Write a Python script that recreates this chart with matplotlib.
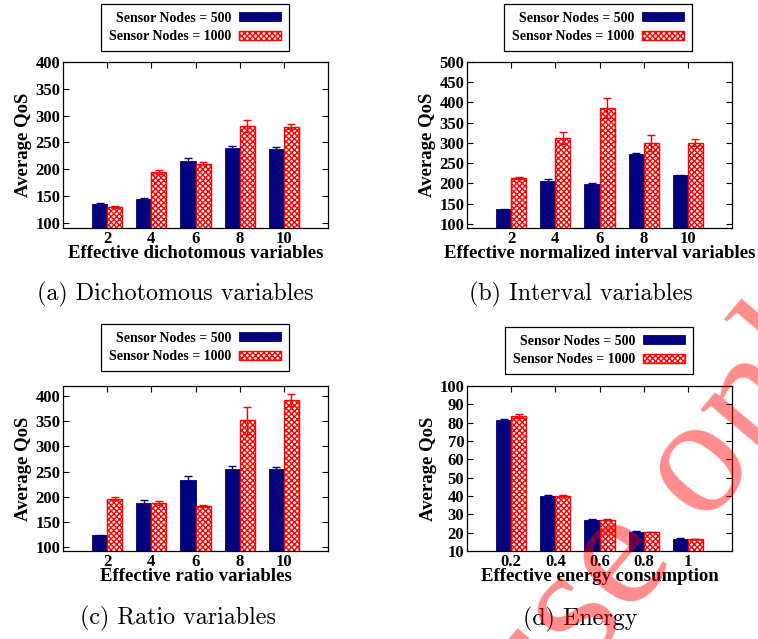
# Average QoS bar charts: 4 panels, 500 vs 1000 sensor nodes
import matplotlib.pyplot as plt

# ---- data ----
labels_dich = ['2', '4', '6', '8', '10']
labels_int = ['2', '4', '6', '8', '10']
labels_ratio = ['2', '4', '6', '8', '10']
labels_energy = ['0.2', '0.4', '0.6', '0.8', '1']

dich_500 = [134, 144, 216, 239, 237]
dich_500_err = [2, 2, 4, 4, 4]
dich_1000 = [129, 194, 210, 281, 279]
dich_1000_err = [2, 4, 3, 11, 5]

int_500 = [136, 207, 198, 273, 220]
int_500_err = [2, 4, 2, 3, 2]
int_1000 = [214, 312, 386, 299, 301]
int_1000_err = [2, 15, 24, 20, 8]

ratio_500 = [123, 187, 234, 255, 255]
ratio_500_err = [1, 7, 8, 6, 3]
ratio_1000 = [196, 188, 182, 352, 392]
ratio_1000_err = [3, 4, 2, 27, 12]

energy_500 = [81.4, 40.0, 27.0, 20.6, 16.7]
energy_500_err = [0.5, 0.3, 0.3, 0.2, 0.2]
energy_1000 = [83.5, 40.0, 27.0, 20.4, 16.5]
energy_1000_err = [1.0, 0.3, 0.3, 0.2, 0.2]

legend_labels = ['Sensor Nodes = 500', 'Sensor Nodes = 1000']

W, H = 758, 639
BLUE = '#00007f'
RED = '#ff0000'
BOLD = dict(family='Liberation Serif', weight='bold')

plt.rcParams['hatch.linewidth'] = 1.0
plt.rcParams['hatch.color'] = RED

fig = plt.figure(figsize=(W / 100, H / 100), dpi=100)


def px_axes(left, top, right, bottom):
    # axes rectangle given in picture pixels
    return fig.add_axes([left / W, 1 - bottom / H, (right - left) / W, (bottom - top) / H])


def panel(box, legend_x, legend_top, labels, v500, e500, v1000, e1000,
          ylim, yticks, xlabel, caption, cap_xy):
    ax = px_axes(*box)
    x = list(range(1, len(labels) + 1))
    w = 0.34
    xb = [i - w / 2 for i in x]
    xr = [i + w / 2 for i in x]
    b1 = ax.bar(xb, v500, w, color=BLUE, edgecolor=BLUE, linewidth=0.6, zorder=2)
    b2 = ax.bar(xr, v1000, w, color='white', edgecolor=RED, hatch='xxxxxx',
                linewidth=1.0, zorder=2)
    ax.errorbar(xb, v500, yerr=e500, fmt='none', ecolor=BLUE, elinewidth=1,
                capsize=3, capthick=1, zorder=3)
    ax.errorbar(xr, v1000, yerr=e1000, fmt='none', ecolor=RED, elinewidth=1,
                capsize=3, capthick=1, zorder=3)

    ax.set_xlim(0, len(labels) + 1)
    ax.set_ylim(*ylim)
    ax.set_xticks(x)
    ax.set_xticklabels(labels, fontsize=12, **BOLD)
    ax.set_yticks(yticks)
    ax.set_yticklabels([str(t) for t in yticks], fontsize=12, **BOLD)
    ax.tick_params(direction='in', top=True, right=True, length=4, width=0.8, pad=2)
    for s in ax.spines.values():
        s.set_linewidth(0.9)
    ax.set_xlabel(xlabel, fontsize=13.5, labelpad=-1, **BOLD)
    ax.set_ylabel('Average QoS', fontsize=13.5, labelpad=2, **BOLD)

    leg = ax.legend([b1, b2], legend_labels, loc='upper center',
                    bbox_to_anchor=(legend_x / W, 1 - legend_top / H),
                    bbox_transform=fig.transFigure, markerfirst=False,
                    prop=dict(size=10, **BOLD), fancybox=False, framealpha=1,
                    edgecolor='black', handlelength=3.0, handleheight=0.6,
                    handletextpad=0.6, labelspacing=0.4, borderpad=0.55,
                    borderaxespad=0)
    leg.get_frame().set_linewidth(0.9)

    fig.text(cap_xy[0] / W, 1 - cap_xy[1] / H, caption, ha='center', va='center',
             fontfamily='cmr10', fontsize=17.3)
    return ax


# ---- (a) dichotomous ----
panel((63, 62, 328, 228), 195, 4, labels_dich, dich_500, dich_500_err,
      dich_1000, dich_1000_err, (90, 400), list(range(100, 401, 50)),
      'Effective dichotomous variables', '(a) Dichotomous variables', (175, 294))

# ---- (b) interval ----
panel((467, 62, 732, 228), 598, 4, labels_int, int_500, int_500_err,
      int_1000, int_1000_err, (90, 500), list(range(100, 501, 50)),
      'Effective normalized interval variables', '(b) Interval variables', (581, 294))

# ---- (c) ratio ----
panel((63, 386, 328, 551), 195, 324, labels_ratio, ratio_500, ratio_500_err,
      ratio_1000, ratio_1000_err, (92, 420), list(range(100, 401, 50)),
      'Effective ratio variables', '(c) Ratio variables', (178, 618))

# ---- (d) energy ----
panel((467, 386, 732, 551), 599, 327, labels_energy, energy_500, energy_500_err,
      energy_1000, energy_1000_err, (10, 100), list(range(10, 101, 10)),
      'Effective energy consumption', '(d) Energy', (580, 619))

# watermark stamped over the page
fig.text(683 / W, 1 - 488 / H, 'use only', rotation=50, color='red', alpha=0.45,
         fontsize=122, fontfamily='Liberation Serif', ha='center', va='center',
         zorder=10)

fig.savefig('out.png', dpi=100)
